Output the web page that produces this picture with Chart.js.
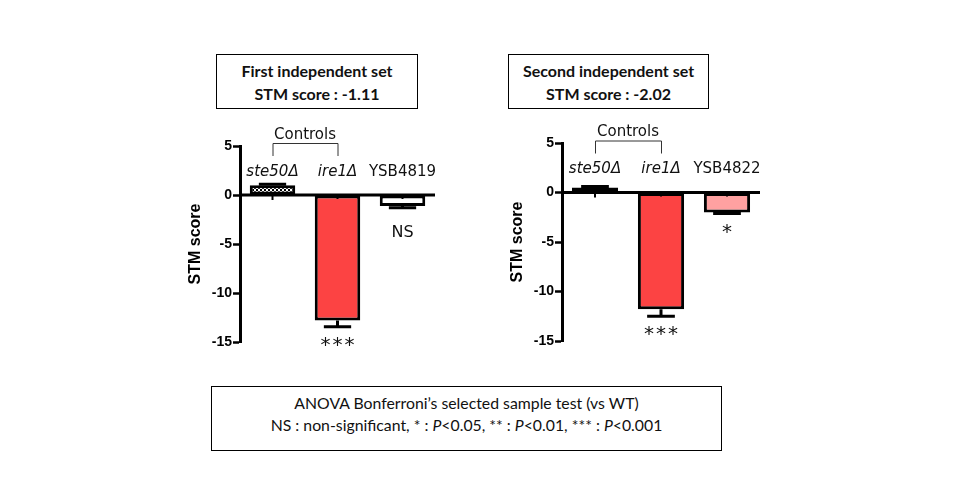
<!DOCTYPE html>
<html>
<head>
<meta charset="utf-8">
<script src="https://cdn.jsdelivr.net/npm/chart.js@4.4.1/dist/chart.umd.min.js"></script>
<style>
  html, body { margin:0; padding:0; background:#fff; }
  body { width:960px; height:500px; position:relative; overflow:hidden; }
  canvas { position:absolute; }
  .box { position:absolute; border:1px solid #000; box-sizing:border-box; text-align:center; color:#111; }
  .title { font-family: Lato, "Open Sans", sans-serif; font-weight:bold; font-size:16px; line-height:23px; padding-top:4px; }
  .note { font-family: Lato, "Open Sans", sans-serif; font-size:15.8px; line-height:22px; padding-top:5px; }
</style>
</head>
<body>
<div class="box title" style="left:216px; top:54px; width:202px; height:55px;">First independent set<br>STM score : -1.11</div>
<div class="box title" style="left:508px; top:54px; width:201px; height:55px;">Second independent set<br>STM score : -2.02</div>
<div class="box note" style="left:211px; top:386px; width:511px; height:65px;">ANOVA Bonferroni’s selected sample test (vs WT)<br>NS : non-significant, * : <i>P</i>&lt;0.05, ** : <i>P</i>&lt;0.01, *** : <i>P</i>&lt;0.001</div>

<canvas id="c1" width="290" height="240" style="left:160px; top:125px;"></canvas>
<canvas id="c2" width="293" height="240" style="left:482px; top:123px;"></canvas>

<script>
// ---- data ----
const categories1 = ['ste50Δ', 'ire1Δ', 'YSB4819'];
const categories2 = ['ste50Δ', 'ire1Δ', 'YSB4822'];
const italicLabels = [true, true, false];
const set1Values = [1.0, -12.8, -1.11];
const set1Errors = [0.1, 0.65, 0.2];
const set2Values = [0.5, -11.8, -2.02];
const set2Errors = [0.1, 0.7, 0.1];
const set1Sig = ['', '***', 'NS'];
const set2Sig = ['', '***', '*'];
const yTicks = [5, 0, -5, -10, -15];
const controlsLabel = 'Controls';
const yTitle = 'STM score';

function checker() {
  const p = document.createElement('canvas');
  p.width = 4; p.height = 4;
  const c = p.getContext('2d');
  c.fillStyle = '#fff'; c.fillRect(0,0,4,4);
  c.fillStyle = '#000';
  c.fillRect(0,0,2,2); c.fillRect(2,2,2,2);
  return c.createPattern(p, 'repeat');
}

const annotPlugin = {
  id: 'annot',
  afterDatasetsDraw(chart, args, opts) {
    const ctx = chart.ctx;
    const ys = chart.scales.y;
    const area = chart.chartArea;
    const y0 = ys.getPixelForValue(0);
    const meta = chart.getDatasetMeta(0);
    const vals = chart.data.datasets[0].data;
    const errs = opts.errors;
    ctx.save();
    // error bars
    ctx.strokeStyle = '#000';
    ctx.lineWidth = 3;
    meta.data.forEach((bar, i) => {
      const v = vals[i], e = errs[i];
      const x = bar.x;
      const end = ys.getPixelForValue(v >= 0 ? v + e : v - e);
      const vp = ys.getPixelForValue(v);
      const capW = bar.width * 0.3;
      ctx.beginPath();
      ctx.moveTo(x, vp); ctx.lineTo(x, end);
      ctx.moveTo(x - capW, end); ctx.lineTo(x + capW, end);
      ctx.stroke();
      // small inner tick
      ctx.lineWidth = 2;
      ctx.beginPath();
      ctx.moveTo(x, y0); ctx.lineTo(x, y0 + (v >= 0 ? 5 : 4));
      ctx.stroke();
      ctx.lineWidth = 3;
    });
    // zero line
    ctx.beginPath();
    ctx.moveTo(area.left, y0); ctx.lineTo(area.right, y0);
    ctx.stroke();
    // category labels
    ctx.fillStyle = '#111';
    ctx.textAlign = 'center';
    ctx.textBaseline = 'middle';
    chart.data.labels.forEach((lab, i) => {
      ctx.font = (italicLabels[i] ? 'italic ' : '') + '15px "DejaVu Sans"';
      ctx.fillText(lab, meta.data[i].x, y0 - 23);
    });
    // controls bracket
    const xa = meta.data[0].x, xb = meta.data[1].x;
    ctx.strokeStyle = '#333';
    ctx.lineWidth = 1;
    ctx.beginPath();
    ctx.moveTo(xa + 0.5, y0 - 39); ctx.lineTo(xa + 0.5, y0 - 51.5);
    ctx.lineTo(xb + 0.5, y0 - 51.5); ctx.lineTo(xb + 0.5, y0 - 39);
    ctx.stroke();
    ctx.font = '15px "DejaVu Sans"';
    ctx.fillText(controlsLabel, (xa + xb) / 2, y0 - 60);
    // significance
    meta.data.forEach((bar, i) => {
      const s = opts.sig[i];
      if (!s) return;
      const v = vals[i], e = errs[i];
      const end = ys.getPixelForValue(v - e);
      if (s === 'NS') {
        ctx.font = '16px "DejaVu Sans"';
        ctx.letterSpacing = '0px';
        ctx.fillText(s, bar.x, end + 25);
      } else {
        ctx.font = '20px "DejaVu Sans"';
        ctx.letterSpacing = '2px';
        ctx.fillText(s, bar.x + 1, end + 19);
      }
    });
    ctx.letterSpacing = '0px';
    // y title
    ctx.translate(area.left - 44, (area.top + area.bottom) / 2);
    ctx.rotate(-Math.PI / 2);
    ctx.font = 'bold 16px "Liberation Sans"';
    ctx.fillStyle = '#000';
    ctx.fillText(yTitle, 0, 0);
    ctx.restore();
  }
};

function makeChart(id, labels, values, errors, sig, colors, pad) {
  return new Chart(document.getElementById(id), {
    type: 'bar',
    data: {
      labels: labels,
      datasets: [{
        data: values,
        backgroundColor: colors,
        borderColor: '#000',
        borderWidth: 3,
        borderSkipped: false,
        barPercentage: 0.7,
        categoryPercentage: 1.0
      }]
    },
    options: {
      responsive: false,
      animation: false,
      devicePixelRatio: 1,
      layout: { padding: pad },
      plugins: {
        legend: { display: false },
        tooltip: { enabled: false },
        annot: { errors: errors, sig: sig }
      },
      scales: {
        x: { display: false },
        y: {
          min: -15, max: 5,
          afterBuildTicks: (s) => { s.ticks = yTicks.map(v => ({ value: v })); },
          afterFit: (s) => { s.width = 80; },
          border: { display: true, width: 3, color: '#000' },
          grid: { drawOnChartArea: false, drawTicks: true, tickLength: 7, tickWidth: 2.5, color: '#000' },
          ticks: { padding: 1, color: '#000', font: { family: '"Liberation Sans"', weight: 'bold', size: 14 } }
        }
      }
    },
    plugins: [annotPlugin]
  });
}

const pat = checker();
makeChart('c1', categories1, set1Values, set1Errors, set1Sig,
  [pat, '#FC4343', '#FFFFFF'], { top: 21, bottom: 23, right: 15, left: 0 });
makeChart('c2', categories2, set2Values, set2Errors, set2Sig,
  [pat, '#FC4343', '#FFA1A1'], { top: 20, bottom: 22, right: 15, left: 0 });
</script>
</body>
</html>
